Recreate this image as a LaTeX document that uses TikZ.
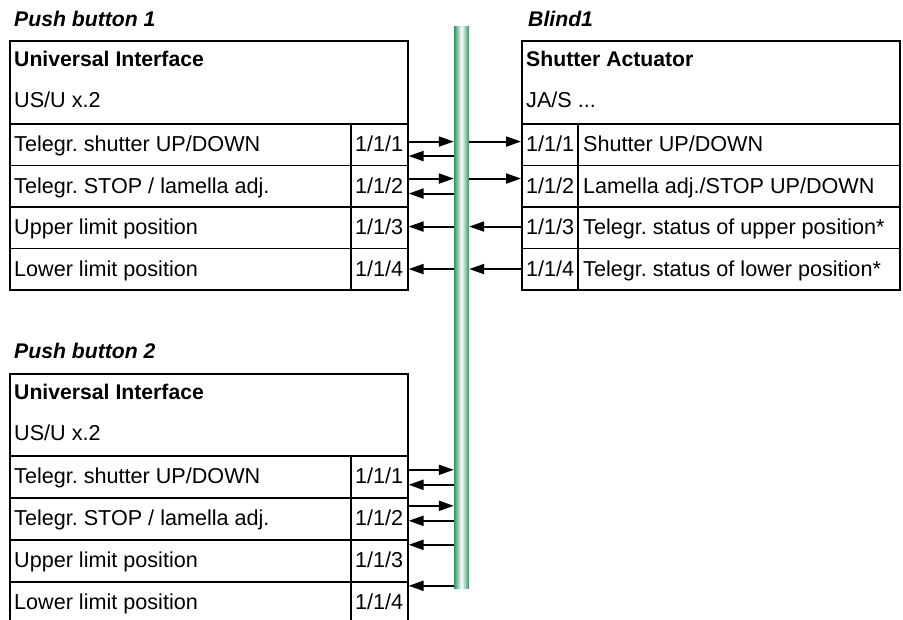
\documentclass[tikz,border=0pt]{standalone}
\usepackage{fontspec}
\setmainfont{Liberation Sans}
\usetikzlibrary{arrows.meta}
\definecolor{busgreen}{RGB}{45,150,100}
\tikzset{
  cell/.style={draw, line width=1.6pt, rectangle, inner sep=0pt, anchor=north west},
  txt/.style={anchor=base west, inner sep=0pt, font=\fontsize{21.6}{25}\selectfont},
  hdr/.style={txt, font=\fontsize{21.2}{25}\selectfont\bfseries},
  ttl/.style={txt, font=\fontsize{21.2}{25}\selectfont\bfseries\itshape},
  arr/.style={line width=2pt, -{Triangle[length=15pt,width=10pt]}},
  bus/.style={rectangle, inner sep=0pt, minimum width=15pt, shade, left color=busgreen, right color=busgreen, middle color=white}
}
\begin{document}
\frenchspacing
\begin{tikzpicture}[x=1pt,y=-1pt]
\clip (0,0) rectangle (903,619);
\useasboundingbox (0,0) rectangle (903,619);

% bus
\node[bus, minimum height=562pt, anchor=north] (bus) at (461.5,26) {};

% ---------- Push button 1 ----------
\node[ttl] (t1) at (14,26) {Push button 1};
\node[cell, minimum width=398pt, minimum height=83pt] (h1) at (9,40) {};
\node[hdr] (h1a) at (14,66) {Universal Interface};
\node[txt] (h1b) at (14,107) {US/U x.2};
\foreach \i/\y/\lab in {1/123/{Telegr. shutter UP/DOWN},2/164.5/{Telegr. STOP / lamella adj.},3/206/{Upper limit position},4/247.5/{Lower limit position}}{
  \node[cell, minimum width=341pt, minimum height=41.5pt] (al\i) at (9,\y) {};
  \node[cell, minimum width=57pt, minimum height=41.5pt] (an\i) at (350,\y) {};
  \node[txt] (alt\i) at (14,\y+28.5) {\lab};
  \node[txt] (ant\i) at (355,\y+28.5) {1/1/\i};
}

% ---------- Blind1 ----------
\node[ttl] (t2) at (528,26) {Blind1};
\node[cell, minimum width=378pt, minimum height=83pt] (h2) at (521,40) {};
\node[hdr] (h2a) at (526,66) {Shutter Actuator};
\node[txt] (h2b) at (526,107) {JA/S ...};
\foreach \i/\y/\lab in {1/123/{Shutter UP/DOWN},2/164.5/{Lamella adj./STOP UP/DOWN},3/206/{Telegr. status of upper position*},4/247.5/{Telegr. status of lower position*}}{
  \node[cell, minimum width=56pt, minimum height=41.5pt] (bn\i) at (521,\y) {};
  \node[cell, minimum width=322pt, minimum height=41.5pt] (bl\i) at (577,\y) {};
  \node[txt] (bnt\i) at (526,\y+28.5) {1/1/\i};
  \node[txt] (blt\i) at (583,\y+28.5) {\lab};
}

% ---------- Push button 2 ----------
\node[ttl] (t3) at (14,358) {Push button 2};
\node[cell, minimum width=398pt, minimum height=82pt] (h3) at (9,373) {};
\node[hdr] (h3a) at (14,399) {Universal Interface};
\node[txt] (h3b) at (14,440) {US/U x.2};
\foreach \i/\y/\lab in {1/455/{Telegr. shutter UP/DOWN},2/497/{Telegr. STOP / lamella adj.},3/539/{Upper limit position},4/581/{Lower limit position}}{
  \node[cell, minimum width=341pt, minimum height=42pt] (cl\i) at (9,\y) {};
  \node[cell, minimum width=57pt, minimum height=42pt] (cn\i) at (350,\y) {};
  \node[txt] (clt\i) at (14,\y+28.5) {\lab};
  \node[txt] (cnt\i) at (355,\y+28.5) {1/1/\i};
}

% ---------- arrows box 1 <-> bus ----------
\draw[arr] ([yshift=3pt]an1.east) -- ([yshift=3pt]an1.east -| bus.west);
\draw[arr] ([yshift=-11.5pt]an1.east -| bus.west) -- ([yshift=-11.5pt]an1.east);
\draw[arr] ([yshift=7.5pt]an2.east) -- ([yshift=7.5pt]an2.east -| bus.west);
\draw[arr] ([yshift=-7.5pt]an2.east -| bus.west) -- ([yshift=-7.5pt]an2.east);
\draw[arr] ([yshift=1pt]an3.east -| bus.west) -- ([yshift=1pt]an3.east);
\draw[arr] ([yshift=0pt]an4.east -| bus.west) -- ([yshift=0pt]an4.east);

% ---------- arrows bus <-> Blind1 ----------
\draw[arr] ([yshift=3pt]bn1.west -| bus.east) -- ([yshift=3pt]bn1.west);
\draw[arr] ([yshift=7.5pt]bn2.west -| bus.east) -- ([yshift=7.5pt]bn2.west);
\draw[arr] ([yshift=1pt]bn3.west) -- ([yshift=1pt]bn3.west -| bus.east);
\draw[arr] ([yshift=0pt]bn4.west) -- ([yshift=0pt]bn4.west -| bus.east);

% ---------- arrows box 2 <-> bus ----------
\draw[arr] ([yshift=7pt]cn1.east) -- ([yshift=7pt]cn1.east -| bus.west);
\draw[arr] ([yshift=-8pt]cn1.east -| bus.west) -- ([yshift=-8pt]cn1.east);
\draw[arr] ([yshift=13pt]cn2.east) -- ([yshift=13pt]cn2.east -| bus.west);
\draw[arr] ([yshift=-2pt]cn2.east -| bus.west) -- ([yshift=-2pt]cn2.east);
\draw[arr] ([yshift=16pt]cn3.east -| bus.west) -- ([yshift=16pt]cn3.east);
\draw[arr] ([yshift=17pt]cn4.east -| bus.west) -- ([yshift=17pt]cn4.east);
\end{tikzpicture}
\end{document}
